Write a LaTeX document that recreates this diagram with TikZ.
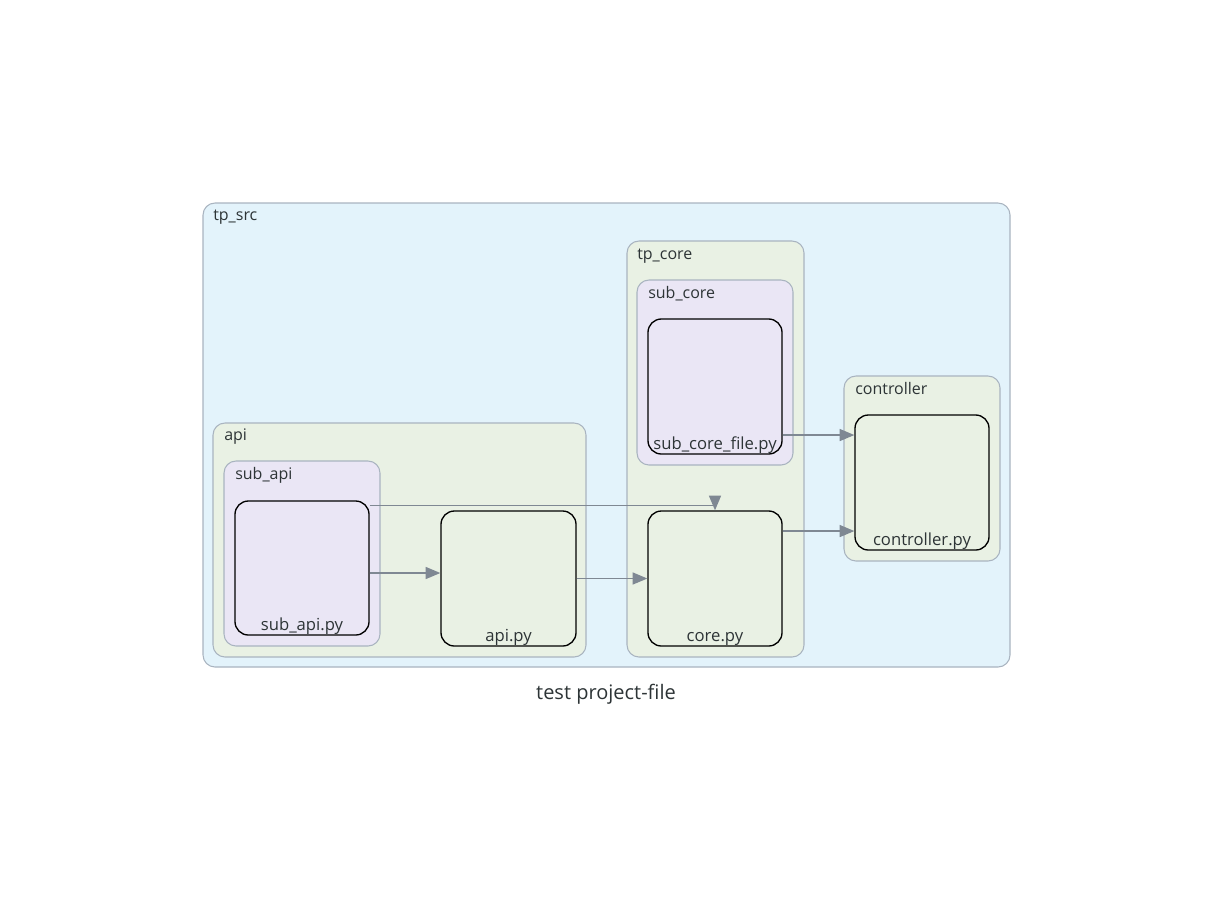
\documentclass[tikz,border=0pt]{standalone}
\usepackage{fontspec}
\setmainfont{Open Sans}
\usetikzlibrary{fit,arrows.meta}
\definecolor{srcblue}{HTML}{E3F3FB}
\definecolor{pkggreen}{HTML}{E9F1E4}
\definecolor{sublav}{HTML}{EAE6F5}
\definecolor{boxline}{HTML}{A9B4C0}
\definecolor{edgegrey}{HTML}{7F8893}
\definecolor{txtgrey}{HTML}{2D3436}
\begin{document}
\begin{tikzpicture}[x=0.75pt,y=-0.75pt,
    cluster/.style={draw=boxline, line width=0.8pt, rounded corners=9pt, inner sep=0pt},
    filebox/.style={draw=black, line width=1pt, rounded corners=10pt, inner sep=0pt},
    clabel/.style={anchor=base west, font=\fontsize{12}{14}\selectfont, text=txtgrey, inner sep=0pt},
    flabel/.style={anchor=base, font=\fontsize{12.5}{15}\selectfont, text=txtgrey, inner sep=0pt},
    edge/.style={draw=edgegrey, line width=1pt, -{Triangle[length=11pt,width=9pt]}}]
    \useasboundingbox (0,0) rectangle (1213,904);

    % clusters
    \node[cluster, fill=srcblue, fit={(203,203) (1010,667)}] (tpsrc) {};
    \node[clabel] at (213,220) {tp\_src};
    \node[cluster, fill=pkggreen, fit={(213,423) (586,657)}] (api) {};
    \node[clabel] at (224,440) {api};
    \node[cluster, fill=sublav, fit={(224,461) (380,646)}] (subapi) {};
    \node[clabel] at (235,479) {sub\_api};
    \node[cluster, fill=pkggreen, fit={(627,241) (804,657)}] (tpcore) {};
    \node[clabel] at (637,259) {tp\_core};
    \node[cluster, fill=sublav, fit={(637,280) (793,465)}] (subcore) {};
    \node[clabel] at (648,298) {sub\_core};
    \node[cluster, fill=pkggreen, fit={(844,376) (1000,561)}] (controller) {};
    \node[clabel] at (855,394) {controller};

    % files
    \node[filebox, fit={(235,501) (369,635)}] (subapipy) {};
    \node[flabel] at (302,630) {sub\_api.py};
    \node[filebox, fit={(441,511) (576,646)}] (apipy) {};
    \node[flabel] at (508.5,641) {api.py};
    \node[filebox, fit={(648,319) (782,454)}] (subcorefilepy) {};
    \node[flabel] at (715,449) {sub\_core\_file.py};
    \node[filebox, fit={(648,511) (782,646)}] (corepy) {};
    \node[flabel] at (715,641) {core.py};
    \node[filebox, fit={(855,415) (989,550)}] (controllerpy) {};
    \node[flabel] at (922,545) {controller.py};

    % imports
    \draw[edge] ([yshift=-3.75pt]subapipy.east) -- ([yshift=-3.75pt]subapipy.east -| apipy.west);
    \draw[edge] (apipy.east) -- (corepy.west);
    \draw[edge] ([yshift=-3.75pt]subapipy.north east) -| (corepy.north);
    \draw[edge] ([yshift=-36.4pt]subcorefilepy.east) -- ([yshift=-36.4pt]subcorefilepy.east -| controllerpy.west);
    \draw[edge] ([yshift=35.6pt]corepy.east) -- ([yshift=35.6pt]corepy.east -| controllerpy.west);

    \node[font=\fontsize{15}{18}\selectfont, text=txtgrey, anchor=base] (title) at (606,699) {test project-file};
\end{tikzpicture}
\end{document}
